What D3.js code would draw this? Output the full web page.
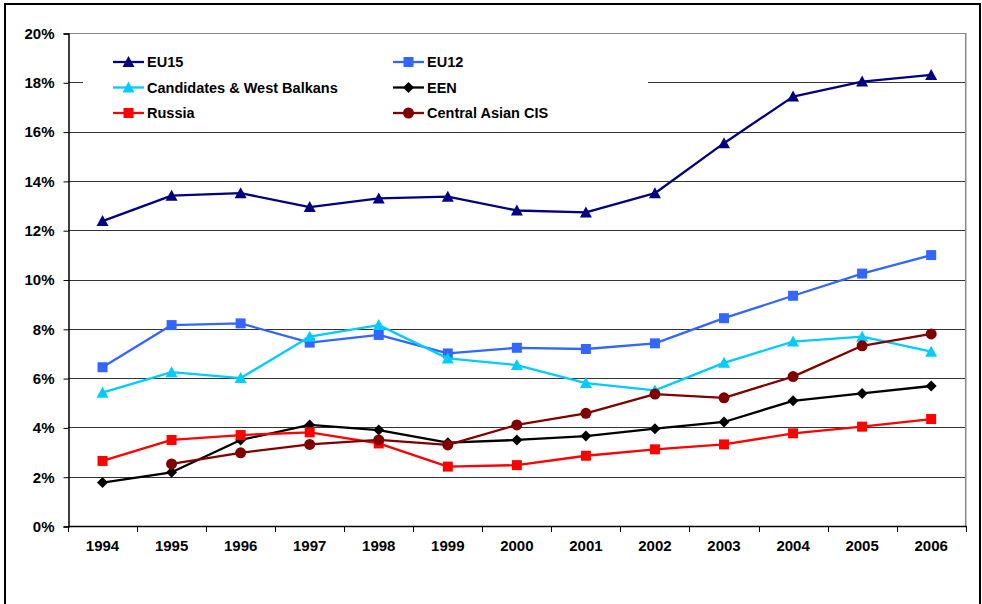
<!DOCTYPE html>
<html><head><meta charset="utf-8">
<script src="https://cdn.jsdelivr.net/npm/d3@7"></script>
<style>
html,body{margin:0;padding:0;background:#fff;}
svg{display:block;font-family:"Liberation Sans",Arial,sans-serif;font-weight:bold;}
</style></head>
<body>
<svg id="c" width="982" height="604"></svg>
<script>
const years = ["1994","1995","1996","1997","1998","1999","2000","2001","2002","2003","2004","2005","2006"];
const yTicks = [0,2,4,6,8,10,12,14,16,18,20];
const eu15 = [12.37,13.40,13.50,12.94,13.29,13.36,12.80,12.72,13.50,15.53,17.42,18.03,18.30];
const eu12 = [6.44,8.15,8.22,7.44,7.75,7.00,7.23,7.18,7.41,8.43,9.34,10.24,10.99];
const candidates = [5.41,6.24,6.00,7.68,8.15,6.80,6.53,5.80,5.50,6.62,7.48,7.68,7.07];
const een = [1.76,2.18,3.49,4.10,3.89,3.38,3.49,3.65,3.95,4.22,5.08,5.38,5.68];
const russia = [2.64,3.49,3.69,3.80,3.35,2.41,2.47,2.85,3.11,3.31,3.76,4.03,4.34];
const cis = [null,2.52,2.97,3.31,3.49,3.29,4.10,4.57,5.35,5.20,6.06,7.31,7.79];

const seriesNames = ["EU15","EU12","Candidates & West Balkans","EEN","Russia","Central Asian CIS"];
const seriesData = [eu15,eu12,candidates,een,russia,cis];
const seriesColors = ["#000080","#3366FF","#00CCFF","#000000","#FF0000","#800000"];
const seriesMarkers = ["triangle","square","triangle","diamond","square","circle"];

const svg = d3.select("#c");
const L=68, R=965.7, T=33, B=526;
const x = d3.scaleBand().domain(years).range([L,R]);
const y = d3.scaleLinear().domain([0,20]).range([B,T]);
const cx = d => x(d)+x.bandwidth()/2;

// outer border
svg.append("rect").attr("x",5).attr("y",4).attr("width",975).attr("height",640)
  .attr("fill","none").attr("stroke","#000").attr("stroke-width",2);

// gridlines
svg.append("g").selectAll("line").data(yTicks.filter(v=>v>0)).join("line")
  .attr("x1",L).attr("x2",R)
  .attr("y1",d=>Math.round(y(d))+0.5).attr("y2",d=>Math.round(y(d))+0.5)
  .attr("stroke",d=>d===20?"#888":"#333").attr("stroke-width",1);
// right border
svg.append("line").attr("x1",R).attr("x2",R).attr("y1",T).attr("y2",B)
  .attr("stroke","#888").attr("stroke-width",1.5);

// legend background
svg.append("rect").attr("x",83).attr("y",42).attr("width",565).attr("height",82).attr("fill","#fff");

// y axis
const yAxis = d3.axisLeft(y).tickValues(yTicks).tickFormat(d=>d+"%").tickSize(5).tickPadding(9);
const gy = svg.append("g").attr("transform",`translate(${L+0.5},0.5)`).call(yAxis);
gy.select(".domain").attr("stroke","#000").attr("stroke-width",1.5);
gy.selectAll(".tick line").attr("stroke","#000");
gy.selectAll("text").attr("font-size","15px").attr("font-weight","bold").attr("fill","#000")
  .attr("font-family","Liberation Sans, Arial, sans-serif");

// x axis
const xAxis = d3.axisBottom(x).tickSize(0).tickPadding(14);
const gx = svg.append("g").attr("transform",`translate(0,${B})`).call(xAxis);
gx.select(".domain").attr("stroke","#000").attr("stroke-width",1.5);
gx.selectAll("text").attr("font-size","15px").attr("font-weight","bold").attr("fill","#000")
  .attr("font-family","Liberation Sans, Arial, sans-serif");
// category boundary ticks
const edges = years.map(d=>x(d)).concat([R]);
svg.append("g").selectAll("line").data(edges).join("line")
  .attr("x1",d=>Math.round(d)+0.5).attr("x2",d=>Math.round(d)+0.5)
  .attr("y1",B).attr("y2",B+6).attr("stroke","#000").attr("stroke-width",1);

// markers
function drawMarker(g, type, px, py, color){
  if(type==="triangle"){
    g.append("path").attr("d",`M${px},${py-6}L${px+6},${py+5}L${px-6},${py+5}Z`).attr("fill",color);
  } else if(type==="square"){
    g.append("rect").attr("x",px-5).attr("y",py-5).attr("width",10).attr("height",10).attr("fill",color);
  } else if(type==="diamond"){
    g.append("path").attr("d",`M${px},${py-5.5}L${px+5.5},${py}L${px},${py+5.5}L${px-5.5},${py}Z`).attr("fill",color);
  } else if(type==="circle"){
    g.append("circle").attr("cx",px).attr("cy",py).attr("r",5.5).attr("fill",color);
  }
}

const line = d3.line().defined(d=>d.v!=null).x(d=>cx(d.yr)).y(d=>y(d.v));
seriesData.forEach((arr,i)=>{
  const pts = arr.map((v,j)=>({yr:years[j],v}));
  const g = svg.append("g");
  g.append("path").attr("d",line(pts)).attr("fill","none")
    .attr("stroke",seriesColors[i]).attr("stroke-width",2.3).attr("stroke-linejoin","round");
  pts.filter(p=>p.v!=null).forEach(p=>drawMarker(g,seriesMarkers[i],cx(p.yr),y(p.v),seriesColors[i]));
});

// legend
const legCols = [113,393], legRows=[62,87.5,113];
seriesNames.forEach((name,i)=>{
  const col = i%2, row = Math.floor(i/2);
  const lx = legCols[col], ly = legRows[row];
  const g = svg.append("g");
  g.append("line").attr("x1",lx).attr("x2",lx+31).attr("y1",ly).attr("y2",ly)
    .attr("stroke",seriesColors[i]).attr("stroke-width",2.3);
  drawMarker(g,seriesMarkers[i],lx+15.5,ly,seriesColors[i]);
  g.append("text").attr("x",lx+34).attr("y",ly+5).attr("font-size","14.5px").attr("fill","#000").text(name);
});
</script>
</body></html>
